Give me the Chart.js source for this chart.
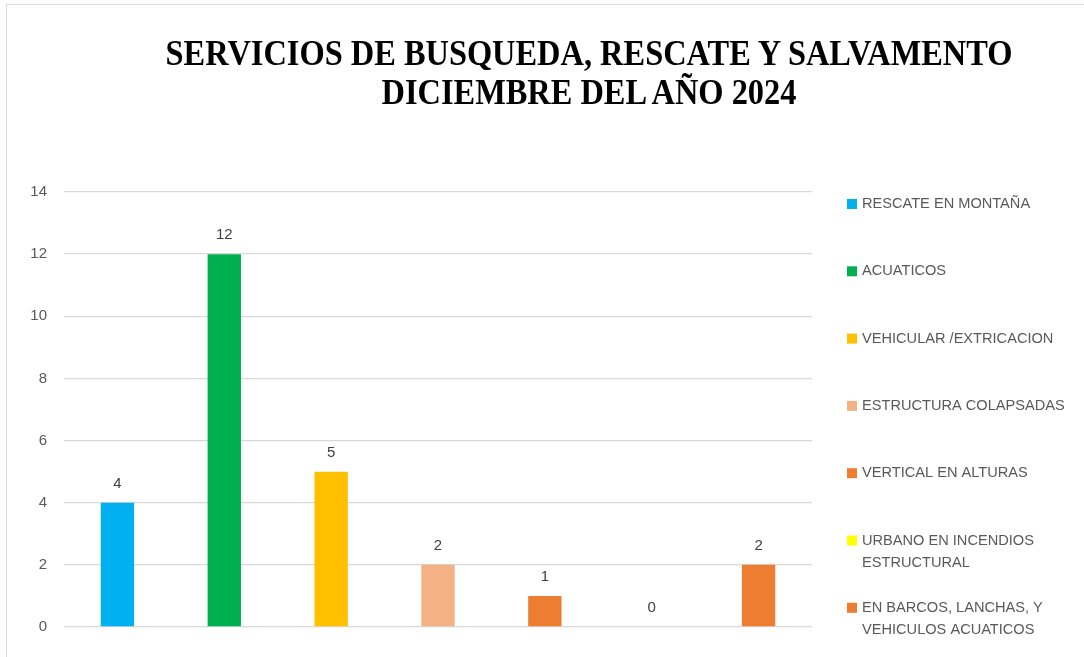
<!DOCTYPE html>
<html><head><meta charset="utf-8">
<script src="https://cdn.jsdelivr.net/npm/chart.js@4"></script>
<style>
html,body{margin:0;padding:0;background:#fff;overflow:hidden;width:1084px;height:657px}
#frame{position:absolute;left:6px;top:4px;width:1200px;height:800px;border:1.5px solid #d9d9d9;box-sizing:border-box}
#c{position:absolute;left:0;top:0}
#title{position:absolute;left:0;top:34px;width:1178px;text-align:center;font-family:"Liberation Serif","Times New Roman",serif;font-weight:bold;font-size:36px;line-height:39px;color:#000;transform:scaleX(0.90);transform-origin:50% 0;white-space:nowrap}
</style>
</head><body>
<div id="frame"></div>
<canvas id="c" width="1084" height="657"></canvas>
<div id="title">SERVICIOS DE BUSQUEDA, RESCATE Y SALVAMENTO<br>DICIEMBRE DEL AÑO 2024</div>
<script>
const categories = ['RESCATE EN MONTAÑA','ACUATICOS','VEHICULAR /EXTRICACION','ESTRUCTURA COLAPSADAS','VERTICAL EN ALTURAS','URBANO EN INCENDIOS ESTRUCTURAL','EN BARCOS, LANCHAS, Y VEHICULOS ACUATICOS'];
const legendLines = [['RESCATE EN MONTAÑA'],['ACUATICOS'],['VEHICULAR /EXTRICACION'],['ESTRUCTURA COLAPSADAS'],['VERTICAL EN ALTURAS'],['URBANO EN INCENDIOS','ESTRUCTURAL'],['EN BARCOS, LANCHAS, Y','VEHICULOS ACUATICOS']];
const values = [4, 12, 5, 2, 1, 0, 2];
const barColors = ['#00B0F0','#00B050','#FFC000','#F4B183','#ED7D31','#FFFF00','#ED7D31'];
const yMin = 0, yMax = 14, yStep = 2;

const FONT = '"Liberation Sans", Arial, sans-serif';

const extras = {
  id: 'extras',
  afterDatasetsDraw(chart) {
    const ctx = chart.ctx;
    const meta = chart.getDatasetMeta(0);
    ctx.save();
    ctx.font = '15px ' + FONT;
    ctx.fillStyle = '#404040';
    ctx.textAlign = 'center';
    ctx.textBaseline = 'middle';
    meta.data.forEach((bar, i) => {
      ctx.fillText(String(values[i]), bar.x, bar.y - 19);
    });
    // legend
    const ca = chart.chartArea;
    const x0 = ca.right + 35;
    const y0 = ca.top + 12;
    const step = 67.3;
    ctx.font = '14.6px ' + FONT;
    ctx.textAlign = 'left';
    legendLines.forEach((lines, i) => {
      const y = y0 + i * step;
      ctx.fillStyle = barColors[i];
      ctx.fillRect(x0, y - 5, 10, 10);
      ctx.fillStyle = '#595959';
      lines.forEach((t, j) => ctx.fillText(t, x0 + 15, y + j * 22));
    });
    ctx.restore();
  }
};

new Chart(document.getElementById('c'), {
  type: 'bar',
  data: {
    labels: categories,
    datasets: [{
      data: values,
      backgroundColor: barColors,
      borderWidth: 0,
      categoryPercentage: 1,
      barPercentage: 0.312
    }]
  },
  options: {
    responsive: false,
    animation: false,
    devicePixelRatio: 1,
    layout: { padding: { left: 0, right: 272, top: 192, bottom: 30 } },
    scales: {
      x: { display: false },
      y: {
        min: yMin, max: yMax,
        ticks: { stepSize: yStep, color: '#595959', font: { size: 15, family: FONT }, padding: 17 },
        grid: { color: '#d9d9d9', lineWidth: 1.3, drawTicks: false },
        border: { display: false },
        afterFit(s) { s.width = 64; }
      }
    },
    plugins: { legend: { display: false }, tooltip: { enabled: false }, title: { display: false } }
  },
  plugins: [extras]
});
</script>
</body></html>
